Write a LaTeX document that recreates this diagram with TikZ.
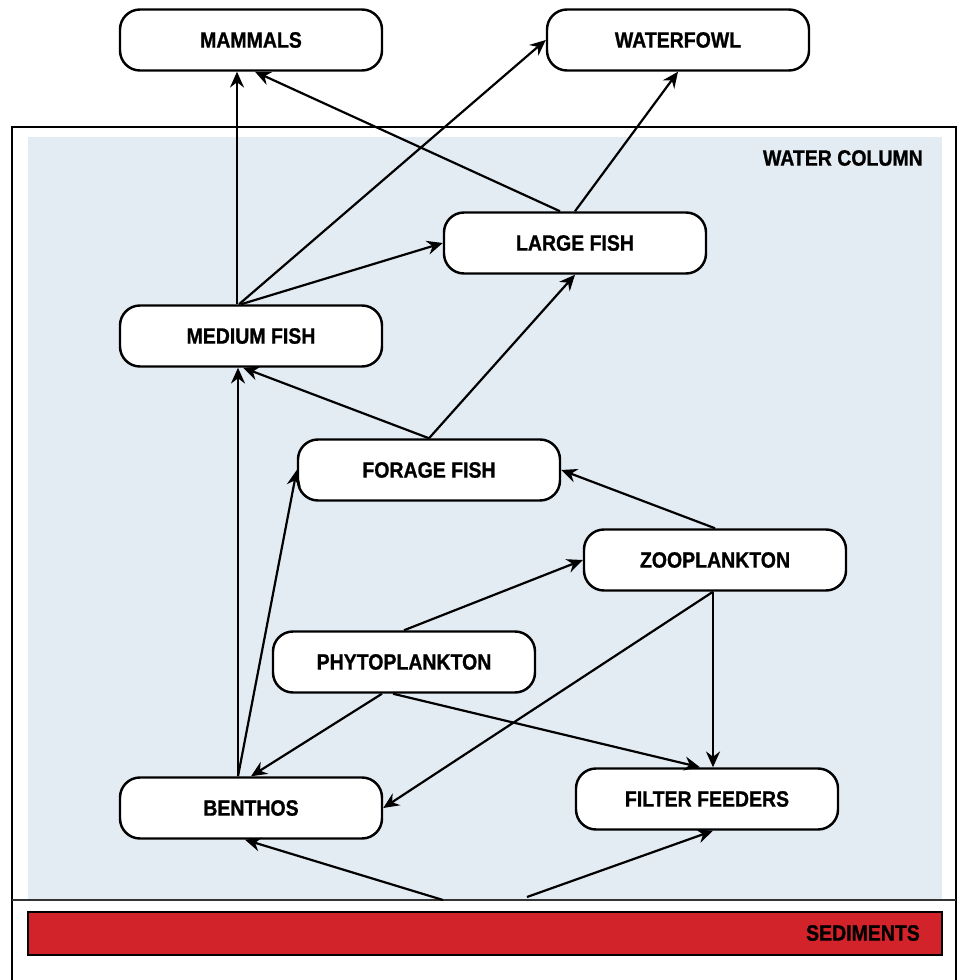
\documentclass[tikz,border=0pt]{standalone}
\usepackage{fontspec}
\setmainfont{Liberation Sans}[FakeStretch=0.88,BoldFeatures={FakeBold=1}]
\usepackage{xcolor}
\usepackage{tikz}
\usetikzlibrary{arrows.meta,calc,positioning}

\definecolor{waterblue}{RGB}{227,235,243}
\definecolor{sedred}{RGB}{210,35,42}

\begin{document}
\begin{tikzpicture}[x=0.2mm,y=-0.2mm,font=\bfseries\fontsize{12.6}{14}\selectfont,
    >={Stealth[length=9pt,width=8pt,inset=3pt]},
    box/.style={draw,line width=1.4pt,rounded corners=4mm,fill=white,
      minimum width=52.4mm,minimum height=12.2mm,inner sep=0pt},
    link/.style={->,line width=1.25pt}]
    \useasboundingbox (0,0) rectangle (959,980);
    % water column and sediments
    \fill[waterblue] (28,137) rectangle (942,900);
    \draw[line width=1.5pt] (12,982) -- (12,127) -- (956,127) -- (956,982);
    \draw[line width=1.1pt, black!80] (12,900) -- (956,900);
    \draw[fill=sedred, line width=1.3pt] (28,912) rectangle (942,955);
    \node[anchor=east] (wc) at (929,158) {WATER COLUMN};
    \node[anchor=east] (sed) at (926,933) {SEDIMENTS};
    % organisms
    \foreach \n/\x/\y/\txt in {
      mam/251/40/MAMMALS,
      wf/678/40/WATERFOWL,
      lf/575/243/LARGE FISH,
      mf/251/336/MEDIUM FISH,
      ff/429/470/FORAGE FISH,
      zoo/715/560/ZOOPLANKTON,
      phy/404/662/PHYTOPLANKTON,
      ben/251/808/BENTHOS,
      filt/707/799/FILTER FEEDERS} {
      \node[box] (\n) at (\x,\y) {\txt};
    }
    \coordinate (sedA) at (443,900);
    \coordinate (sedB) at (527,897);
    % who eats whom
    \draw[link] ($(mf.north)+(-14,0)$) -- ($(mam.south)+(-14,0)$);
    \draw[link] ($(lf.north)+(-15,0)$) -- ($(mam.south)+(4,0)$);
    \draw[link] (lf.north) -- (wf.south);
    \draw[link] ($(mf.north)+(-12,0)$) -- (wf.west);
    \draw[link] ($(mf.north)+(-10,0)$) -- (lf.west);
    \draw[link] (ff.north) -- ($(mf.south)+(-8,0)$);
    \draw[link] (ff.north) -- (lf.south);
    \draw[link] ($(ben.north)+(-13,0)$) -- ($(mf.south)+(-13,0)$);
    \draw[link] ($(ben.north)+(-13,0)$) -- (ff.west);
    \draw[link] (zoo.north) -- (ff.east);
    \draw[link] (phy.north) -- (zoo.west);
    \draw[link] ($(phy.south)+(-22,0)$) -- (ben.north);
    \draw[link] ($(phy.south)+(-11,0)$) -- ($(filt.north)+(-7,0)$);
    \draw[link] ($(zoo.south)+(-2,0)$) -- (ben.east);
    \draw[link] ($(zoo.south)+(-2,0)$) -- ($(filt.north)+(6,0)$);
    \draw[link] (sedA) -- ($(ben.south)+(-6,0)$);
    \draw[link] (sedB) -- ($(filt.south)+(6,0)$);
\end{tikzpicture}
\end{document}
